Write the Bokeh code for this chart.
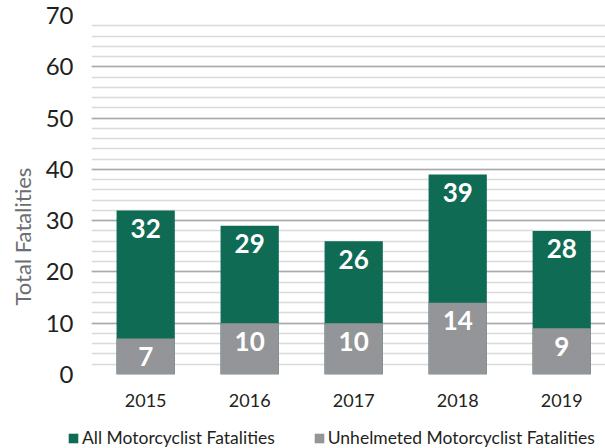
from bokeh.plotting import figure
from bokeh.layouts import column, row
from bokeh.models import (Range1d, FixedTicker, Legend, LegendItem, ColumnDataSource,
                          Plot, VBar, Title)
from bokeh.core.properties import value
from bokeh.embed import file_html
from bokeh.resources import INLINE

years = [2015, 2016, 2017, 2018, 2019]
all_fatal = [32, 29, 26, 39, 28]
unhelmeted = [7, 10, 10, 14, 9]
series_names = ["All Motorcyclist Fatalities", "Unhelmeted Motorcyclist Fatalities"]
y_ticks = [0, 10, 20, 30, 40, 50, 60, 70]
y_title = "Total Fatalities"

GREEN = "#0f6b54"
GRAY = "#939598"
TXT = "#231f20"
FONT = "Lato"

src = ColumnDataSource(dict(
    x=years, all=all_fatal, unh=unhelmeted,
    all_lbl=[str(v) for v in all_fatal], unh_lbl=[str(v) for v in unhelmeted],
))

p = figure(width=605, height=418, output_backend="svg", toolbar_location=None,
           x_range=Range1d(2014.479, 2019.421), y_range=Range1d(0, 70),
           min_border_left=88, min_border_right=0, min_border_top=15, min_border_bottom=44)
p.outline_line_color = None
p.background_fill_color = "white"

r1 = p.vbar(x="x", top="all", width=0.56, source=src, fill_color=GREEN, line_color=None)
r2 = p.vbar(x="x", top="unh", width=0.56, source=src, fill_color=GRAY, line_color=None)

for col, lcol in (("all", "all_lbl"), ("unh", "unh_lbl")):
    p.text(x="x", y=col, text=lcol, source=src, y_offset=18, text_align="center",
           text_baseline="middle", text_color="white", text_font=value(FONT),
           text_font_style="bold", text_font_size="26px")

# axes
p.xaxis.ticker = FixedTicker(ticks=years)
p.xaxis.axis_line_color = None
p.xaxis.major_tick_line_color = None
p.xaxis.minor_tick_line_color = None
p.xaxis.major_tick_out = 0
p.xaxis.major_label_standoff = 19
p.xaxis.major_label_text_font = FONT
p.xaxis.major_label_text_font_size = "18px"
p.xaxis.major_label_text_color = TXT

p.yaxis.ticker = FixedTicker(ticks=y_ticks, minor_ticks=list(range(0, 71, 2)))
p.yaxis.axis_line_color = None
p.yaxis.major_tick_line_color = None
p.yaxis.minor_tick_line_color = None
p.yaxis.major_tick_out = 0
p.yaxis.major_label_standoff = 14
p.yaxis.major_label_text_font = FONT
p.yaxis.major_label_text_font_size = "24px"
p.yaxis.major_label_text_color = TXT

# y-axis title, placed lower than centre as in the original
p.add_layout(Title(text=y_title, align="left", offset=69, standoff=13,
                   text_font=FONT, text_font_size="22px", text_font_style="normal",
                   text_color="#6d6e71"), "left")

p.xgrid.grid_line_color = None
p.ygrid.grid_line_color = "#a7a9ac"
p.ygrid.grid_line_width = 1.5
p.ygrid.minor_grid_line_color = "#d9dadb"
p.ygrid.minor_grid_line_width = 1.5

# legend strip below the chart (a bare plot without axes)
lg = Plot(width=605, height=30, output_backend="svg", toolbar_location=None,
          x_range=Range1d(0, 1), y_range=Range1d(0, 1), min_border=0,
          min_border_left=0, min_border_right=0, min_border_top=0, min_border_bottom=0,
          outline_line_color=None)
dummy = ColumnDataSource(dict(x=[0.5], top=[0]))
g1 = lg.add_glyph(dummy, VBar(x="x", top="top", width=0.01, fill_color=GREEN, line_color=None))
g2 = lg.add_glyph(dummy, VBar(x="x", top="top", width=0.01, fill_color=GRAY, line_color=None))
legend = Legend(items=[LegendItem(label=series_names[0], renderers=[g1]),
                       LegendItem(label=series_names[1], renderers=[g2])],
                orientation="horizontal", location=(67, 0),
                glyph_width=12, glyph_height=12, label_standoff=3, spacing=38,
                padding=0, margin=0, border_line_color=None, background_fill_alpha=0,
                label_text_font=FONT, label_text_font_size="17.5px", label_text_color=TXT,
                label_height=18)
lg.add_layout(legend, "center")

layout = column(p, row(lg), spacing=0)
open("out.html", "w").write(file_html(layout, INLINE))
